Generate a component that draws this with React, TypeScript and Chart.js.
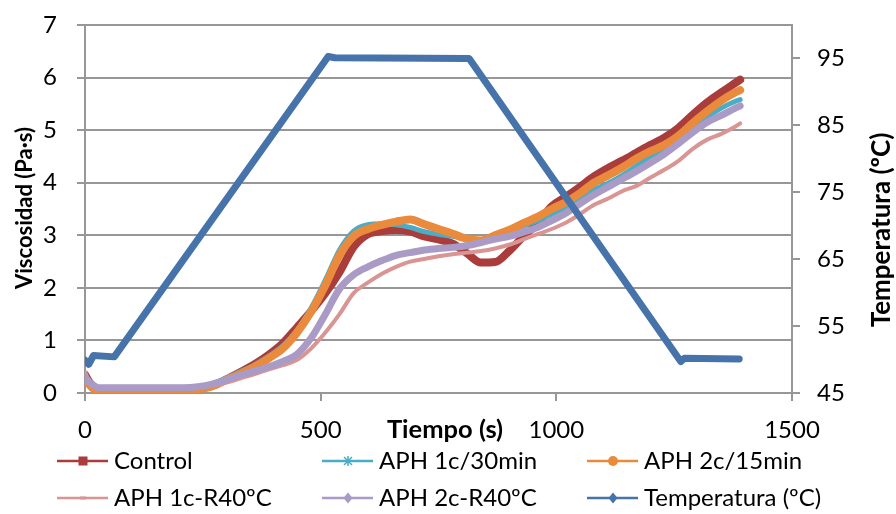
import React, { useEffect, useRef } from 'react';
import { Chart, registerables } from 'chart.js';

Chart.register(...registerables);

// ---- Data ----
const times = [0, 10, 30, 60, 90, 120, 150, 180, 210, 240,
  270, 300, 330, 360, 390, 420, 450, 480, 510, 540,
  570, 600, 630, 660, 690, 720, 750, 780, 810, 840,
  870, 900, 930, 960, 990, 1020, 1050, 1080, 1110, 1140,
  1170, 1200, 1230, 1260, 1290, 1320, 1350, 1380, 1390];

const control = [0.35, 0.2, 0.06, 0.05, 0.05, 0.05, 0.05, 0.05, 0.06, 0.08,
  0.14, 0.26, 0.4, 0.55, 0.73, 0.95, 1.25, 1.56, 1.9, 2.3,
  2.78, 3.02, 3.08, 3.1, 3.07, 2.98, 2.92, 2.84, 2.66, 2.48,
  2.49, 2.7, 2.98, 3.22, 3.55, 3.73, 3.92, 4.12, 4.28, 4.42,
  4.57, 4.72, 4.86, 5.05, 5.3, 5.53, 5.72, 5.9, 5.96];

const aph1c30 = [0.3, 0.18, 0.07, 0.07, 0.07, 0.07, 0.07, 0.07, 0.07, 0.1,
  0.17, 0.29, 0.41, 0.54, 0.7, 0.9, 1.2, 1.62, 2.15, 2.72,
  3.08, 3.2, 3.22, 3.2, 3.15, 3.07, 3.02, 2.98, 2.92, 2.88,
  2.98, 3.08, 3.18, 3.28, 3.4, 3.53, 3.7, 3.87, 3.99, 4.14,
  4.32, 4.5, 4.63, 4.8, 5.05, 5.25, 5.42, 5.55, 5.58];

const aph2c15 = [0.3, 0.15, 0.03, 0.03, 0.03, 0.03, 0.03, 0.03, 0.03, 0.07,
  0.13, 0.25, 0.37, 0.5, 0.66, 0.85, 1.15, 1.55, 2.05, 2.62,
  2.98, 3.12, 3.2, 3.26, 3.3, 3.21, 3.12, 3.03, 2.93, 2.9,
  3.0, 3.1, 3.23, 3.35, 3.5, 3.63, 3.8, 4.0, 4.14, 4.29,
  4.46, 4.6, 4.72, 4.9, 5.14, 5.36, 5.56, 5.72, 5.76];

const aph1cR40 = [0.4, 0.2, 0.08, 0.08, 0.08, 0.08, 0.08, 0.08, 0.08, 0.1,
  0.14, 0.2, 0.28, 0.36, 0.45, 0.53, 0.63, 0.85, 1.15, 1.5,
  1.9, 2.1, 2.27, 2.4, 2.5, 2.55, 2.6, 2.64, 2.67, 2.7,
  2.75, 2.82, 2.92, 3.02, 3.12, 3.24, 3.4, 3.58, 3.7, 3.84,
  3.94, 4.1, 4.25, 4.42, 4.65, 4.82, 4.93, 5.07, 5.13];

const aph2cR40 = [0.3, 0.2, 0.1, 0.1, 0.1, 0.1, 0.1, 0.1, 0.1, 0.12,
  0.17, 0.25, 0.34, 0.42, 0.5, 0.6, 0.74, 1.05, 1.5, 1.98,
  2.25, 2.4, 2.52, 2.62, 2.67, 2.72, 2.75, 2.77, 2.8, 2.86,
  2.93, 2.98, 3.06, 3.15, 3.28, 3.42, 3.6, 3.77, 3.92, 4.07,
  4.22, 4.38, 4.55, 4.75, 4.96, 5.15, 5.28, 5.42, 5.46];

const tempTimes = [0, 8, 18, 62, 516, 530, 815, 1264, 1272, 1388];
const tempValues = [49.9, 49.3, 50.6, 50.4, 95.3, 95.1, 95.0, 49.7, 50.2, 50.1];

const seriesNames = ['Control', 'APH 1c/30min', 'APH 2c/15min', 'APH 1c-R40ºC', 'APH 2c-R40ºC', 'Temperatura (ºC)'];
const rightTicks = [45, 55, 65, 75, 85, 95];
const leftTitle = 'Viscosidad (Pa·s)';
const rightTitle = 'Temperatura (ºC)';
const xTitle = 'Tiempo (s)';

const FONT = 'Lato, "Open Sans", sans-serif';

const seriesStyles = [
  { color: '#AA3D3B', width: 8, marker: 'rect' },
  { color: '#4BACC6', width: 5, marker: 'cross' },
  { color: '#E98A3C', width: 8, marker: 'circle' },
  { color: '#D99593', width: 4, marker: 'dash' },
  { color: '#A99BC6', width: 7, marker: 'diamond' },
  { color: '#4673AA', width: 7, marker: 'diamond' },
];

function drawMarker(ctx: CanvasRenderingContext2D, kind: string, color: string, cx: number, cy: number) {
  ctx.save();
  ctx.fillStyle = color;
  ctx.strokeStyle = color;
  if (kind === 'rect') {
    ctx.fillRect(cx - 4.5, cy - 4.5, 9, 9);
  } else if (kind === 'circle') {
    ctx.beginPath();
    ctx.arc(cx, cy, 5, 0, Math.PI * 2);
    ctx.fill();
  } else if (kind === 'diamond') {
    ctx.beginPath();
    ctx.moveTo(cx, cy - 5.5);
    ctx.lineTo(cx + 4.5, cy);
    ctx.lineTo(cx, cy + 5.5);
    ctx.lineTo(cx - 4.5, cy);
    ctx.closePath();
    ctx.fill();
  } else if (kind === 'cross') {
    ctx.lineWidth = 1.5;
    ctx.beginPath();
    ctx.moveTo(cx - 4, cy - 4); ctx.lineTo(cx + 4, cy + 4);
    ctx.moveTo(cx + 4, cy - 4); ctx.lineTo(cx - 4, cy + 4);
    ctx.moveTo(cx, cy - 5); ctx.lineTo(cx, cy + 5);
    ctx.stroke();
  } else if (kind === 'dash') {
    ctx.fillRect(cx - 3, cy - 1.5, 6, 3);
  }
  ctx.restore();
}

const titlesPlugin = {
  id: 'axisTitles',
  afterDraw(chart: any) {
    const ctx = chart.ctx as CanvasRenderingContext2D;
    ctx.save();
    ctx.fillStyle = '#000';
    ctx.textAlign = 'center';
    ctx.textBaseline = 'middle';
    ctx.font = `bold 22px ${FONT}`;
    ctx.save();
    ctx.translate(25, 208);
    ctx.rotate(-Math.PI / 2);
    ctx.fillText(leftTitle, 0, 0);
    ctx.restore();
    ctx.font = `bold 26px ${FONT}`;
    ctx.save();
    ctx.translate(882, 230);
    ctx.rotate(-Math.PI / 2);
    ctx.fillText(rightTitle, 0, 0);
    ctx.restore();
    ctx.font = `bold 25.5px ${FONT}`;
    ctx.fillText(xTitle, 445, 430);
    ctx.restore();
  },
};

const legendPlugin = {
  id: 'gridLegend',
  afterDraw(chart: any) {
    const ctx = chart.ctx as CanvasRenderingContext2D;
    const colX = [57, 322, 587];
    const rowY = [461, 498];
    chart.data.datasets.forEach((ds: any, i: number) => {
      const st = seriesStyles[i];
      const x0 = colX[i % 3];
      const y = rowY[Math.floor(i / 3)];
      ctx.save();
      ctx.strokeStyle = st.color;
      ctx.lineWidth = 2.5;
      ctx.beginPath();
      ctx.moveTo(x0, y);
      ctx.lineTo(x0 + 51, y);
      ctx.stroke();
      drawMarker(ctx, st.marker, st.color, x0 + 26, y);
      ctx.fillStyle = '#000';
      ctx.font = `24px ${FONT}`;
      ctx.textAlign = 'left';
      ctx.textBaseline = 'middle';
      ctx.fillText(ds.label, x0 + 57, y);
      ctx.restore();
    });
  },
};

export default function App() {
  const ref = useRef<HTMLCanvasElement>(null);
  useEffect(() => {
    document.body.style.margin = '0';
    const pts = (v: number[]) => times.map((t, i) => ({ x: t, y: v[i] }));
    const viscSeries = [control, aph1c30, aph2c15, aph1cR40, aph2cR40];
    const datasets: any[] = viscSeries.map((v, i) => ({
      label: seriesNames[i],
      data: pts(v),
      yAxisID: 'y',
      borderColor: seriesStyles[i].color,
      backgroundColor: seriesStyles[i].color,
      borderWidth: seriesStyles[i].width,
      pointRadius: 0,
      cubicInterpolationMode: 'monotone',
      borderJoinStyle: 'round',
      borderCapStyle: 'round',
      order: 6 - i,
    }));
    datasets.push({
      label: seriesNames[5],
      data: tempTimes.map((t, i) => ({ x: t, y: tempValues[i] })),
      yAxisID: 'y1',
      borderColor: seriesStyles[5].color,
      backgroundColor: seriesStyles[5].color,
      borderWidth: seriesStyles[5].width,
      pointRadius: 0,
      borderJoinStyle: 'round',
      borderCapStyle: 'round',
      order: 0,
    });

    const tickFont = { family: FONT, size: 24 };
    const gridColor = '#979797';
    const plain = (v: any) => String(v);

    const chart = new Chart(ref.current as HTMLCanvasElement, {
      type: 'line',
      data: { datasets },
      options: {
        responsive: false,
        animation: false,
        layout: { padding: { top: 25, left: 0, right: 0, bottom: 0 } },
        plugins: { legend: { display: false }, tooltip: { enabled: false } },
        scales: {
          x: {
            type: 'linear',
            min: 0,
            max: 1500,
            position: 'bottom',
            ticks: { stepSize: 500, padding: 15, font: tickFont, color: '#000', maxRotation: 0, callback: plain },
            grid: { drawOnChartArea: false, tickLength: 8, color: gridColor, lineWidth: 2 },
            border: { color: gridColor, width: 2 },
            afterFit: (s: any) => { s.height = 121; s.paddingLeft = 0; s.paddingRight = 0; },
          },
          y: {
            type: 'linear',
            position: 'left',
            min: 0,
            max: 7,
            ticks: { stepSize: 1, padding: 20, font: tickFont, color: '#000', callback: plain },
            grid: { color: gridColor, lineWidth: 2, tickLength: 8 },
            border: { color: gridColor, width: 2 },
            afterFit: (s: any) => { s.width = 85; s.paddingTop = 0; s.paddingBottom = 0; },
          },
          y1: {
            type: 'linear',
            position: 'right',
            min: 45,
            max: 100,
            ticks: { padding: 17, font: tickFont, color: '#000', callback: plain },
            grid: { drawOnChartArea: false, tickLength: 8, color: gridColor, lineWidth: 2 },
            border: { color: gridColor, width: 2 },
            afterBuildTicks: (s: any) => { s.ticks = rightTicks.map((v) => ({ value: v })); },
            afterFit: (s: any) => { s.width = 104; s.paddingTop = 0; s.paddingBottom = 0; },
          },
        },
      } as any,
      plugins: [titlesPlugin, legendPlugin],
    });
    return () => chart.destroy();
  }, []);

  return (
    <div style={{ width: 896, height: 514 }}>
      <canvas ref={ref} width={896} height={514} />
    </div>
  );
}
